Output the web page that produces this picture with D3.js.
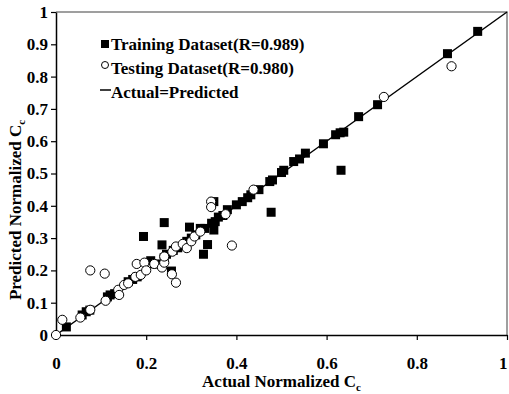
<!DOCTYPE html>
<html>
<head>
<meta charset="utf-8">
<script src="https://cdn.jsdelivr.net/npm/d3@7"></script>
<style>
  body { margin: 0; background: #fff; }
  svg text { font-family: "Liberation Serif", "Times New Roman", serif; font-weight: bold; fill: #000; }
</style>
</head>
<body>
<div id="chart"></div>
<script>
// Training points: [actual, predicted]
const trainingData = [
    [0.023, 0.025], [0.058, 0.062], [0.067, 0.072], [0.075, 0.077], [0.114, 0.118],
    [0.12, 0.124], [0.13, 0.128], [0.16, 0.165], [0.17, 0.172], [0.18, 0.18],
    [0.21, 0.23], [0.22, 0.22], [0.24, 0.24], [0.245, 0.25], [0.26, 0.262],
    [0.27, 0.27], [0.29, 0.29], [0.3, 0.3], [0.31, 0.31], [0.32, 0.33],
    [0.33, 0.33], [0.345, 0.346], [0.353, 0.351], [0.36, 0.365], [0.37, 0.37],
    [0.38, 0.388], [0.4, 0.403], [0.413, 0.413], [0.425, 0.425], [0.432, 0.434],
    [0.45, 0.45], [0.474, 0.475], [0.48, 0.48], [0.5, 0.503], [0.505, 0.51],
    [0.527, 0.537], [0.54, 0.545], [0.553, 0.563], [0.593, 0.592], [0.62, 0.62],
    [0.63, 0.626], [0.638, 0.628], [0.671, 0.676], [0.713, 0.713], [0.868, 0.871],
    [0.935, 0.94],
    [0.194, 0.305], [0.24, 0.348], [0.235, 0.279], [0.296, 0.334], [0.256, 0.198],
    [0.327, 0.25], [0.336, 0.28], [0.35, 0.413], [0.35, 0.325], [0.477, 0.38],
    [0.632, 0.51]
];

// Testing points: [actual, predicted]
const testingData = [
    [0, 0], [0.014, 0.047], [0.054, 0.054], [0.076, 0.078], [0.076, 0.2],
    [0.108, 0.19], [0.11, 0.106], [0.138, 0.14], [0.14, 0.124], [0.151, 0.155],
    [0.16, 0.16], [0.176, 0.18], [0.179, 0.22], [0.188, 0.186], [0.196, 0.224],
    [0.2, 0.2], [0.218, 0.22], [0.235, 0.209], [0.24, 0.224], [0.24, 0.243],
    [0.257, 0.188], [0.266, 0.162], [0.258, 0.258], [0.266, 0.274], [0.281, 0.282],
    [0.29, 0.269], [0.3, 0.29], [0.307, 0.305], [0.32, 0.32], [0.344, 0.413],
    [0.344, 0.396], [0.376, 0.374], [0.39, 0.277], [0.438, 0.45], [0.727, 0.737],
    [0.877, 0.832]
];

const xTicks = [0, 0.2, 0.4, 0.6, 0.8, 1];
const yTicks = [0, 0.1, 0.2, 0.3, 0.4, 0.5, 0.6, 0.7, 0.8, 0.9, 1];
const legendLabels = ["Training Dataset(R=0.989)", "Testing Dataset(R=0.980)", "Actual=Predicted"];

const W = 509, H = 394;
const margin = {top: 12, right: 2, bottom: 59, left: 56};
const width = W - margin.left - margin.right;
const height = H - margin.top - margin.bottom;
const fs = "17px";

const svg = d3.select("#chart").append("svg")
    .attr("width", W)
    .attr("height", H);

const g = svg.append("g")
    .attr("transform", `translate(${margin.left},${margin.top})`);

const x = d3.scaleLinear().domain([0, 1]).range([0, width]);
const y = d3.scaleLinear().domain([0, 1]).range([height, 0]);

const fmt = d => d === 0 || d === 1 ? d3.format("d")(d) : d3.format(".1f")(d);

// Top and right frame (gray)
g.append("path")
    .attr("d", `M0,0H${width}V${height}`)
    .attr("fill", "none")
    .attr("stroke", "#808080")
    .attr("stroke-width", 1.5);

// X axis
const xAxis = g.append("g")
    .attr("transform", `translate(0,${height})`)
    .call(d3.axisBottom(x).tickValues(xTicks).tickSize(5).tickSizeOuter(0).tickFormat(fmt));
xAxis.selectAll("text").attr("dy", "1.5em").style("font-size", fs);
// keep the last label inside the window
xAxis.selectAll(".tick text").filter(d => d === 1).attr("text-anchor", "end").attr("dx", 0);

// Y axis
const yAxis = g.append("g")
    .call(d3.axisLeft(y).tickValues(yTicks).tickSize(5).tickSizeOuter(0).tickFormat(fmt));
yAxis.selectAll("text").attr("x", -8).style("font-size", fs);

[xAxis, yAxis].forEach(a => {
    a.select(".domain").attr("stroke", "#000").attr("stroke-width", 1.5);
    a.selectAll(".tick line").attr("stroke", "#000").attr("stroke-width", 1.2);
});

// Actual = Predicted line
g.append("line")
    .attr("x1", x(0)).attr("y1", y(0))
    .attr("x2", x(1)).attr("y2", y(1))
    .attr("stroke", "#000")
    .attr("stroke-width", 1.5);

// Training squares
const sq = 9;
g.selectAll(".train")
    .data(trainingData)
    .enter()
    .append("rect")
    .attr("class", "train")
    .attr("x", d => x(d[0]) - sq / 2)
    .attr("y", d => y(d[1]) - sq / 2)
    .attr("width", sq)
    .attr("height", sq)
    .attr("fill", "#000");

// Testing circles
g.selectAll(".test")
    .data(testingData)
    .enter()
    .append("circle")
    .attr("class", "test")
    .attr("cx", d => x(d[0]))
    .attr("cy", d => y(d[1]))
    .attr("r", 4.6)
    .attr("fill", "#fff")
    .attr("stroke", "#000")
    .attr("stroke-width", 1);

// Axis titles
const xTitle = svg.append("text")
    .attr("x", margin.left + width / 2)
    .attr("y", 387)
    .attr("text-anchor", "middle")
    .style("font-size", fs);
xTitle.append("tspan").text("Actual Normalized C");
xTitle.append("tspan").attr("dy", 4).style("font-size", "11px").text("c");

const yTitle = svg.append("text")
    .attr("transform", "translate(21,210) rotate(-90)")
    .attr("text-anchor", "middle")
    .style("font-size", fs);
yTitle.append("tspan").text("Predicted Normalized C");
yTitle.append("tspan").attr("dy", 4).style("font-size", "11px").text("c");

// Legend
const legend = svg.append("g").attr("transform", "translate(100,44)");
const rowH = 24;
legend.append("rect").attr("x", 1).attr("y", -4).attr("width", 8).attr("height", 8).attr("fill", "#000");
legend.append("circle").attr("cx", 5).attr("cy", rowH - 3).attr("r", 3.5)
    .attr("fill", "#fff").attr("stroke", "#000").attr("stroke-width", 1);
legend.append("line").attr("x1", 0).attr("x2", 11).attr("y1", 2 * rowH - 2).attr("y2", 2 * rowH - 2)
    .attr("stroke", "#000").attr("stroke-width", 1.5);
legendLabels.forEach((t, i) => {
    legend.append("text")
        .attr("x", 11)
        .attr("y", i * rowH + 6)
        .style("font-size", fs)
        .text(t);
});
</script>
</body>
</html>
